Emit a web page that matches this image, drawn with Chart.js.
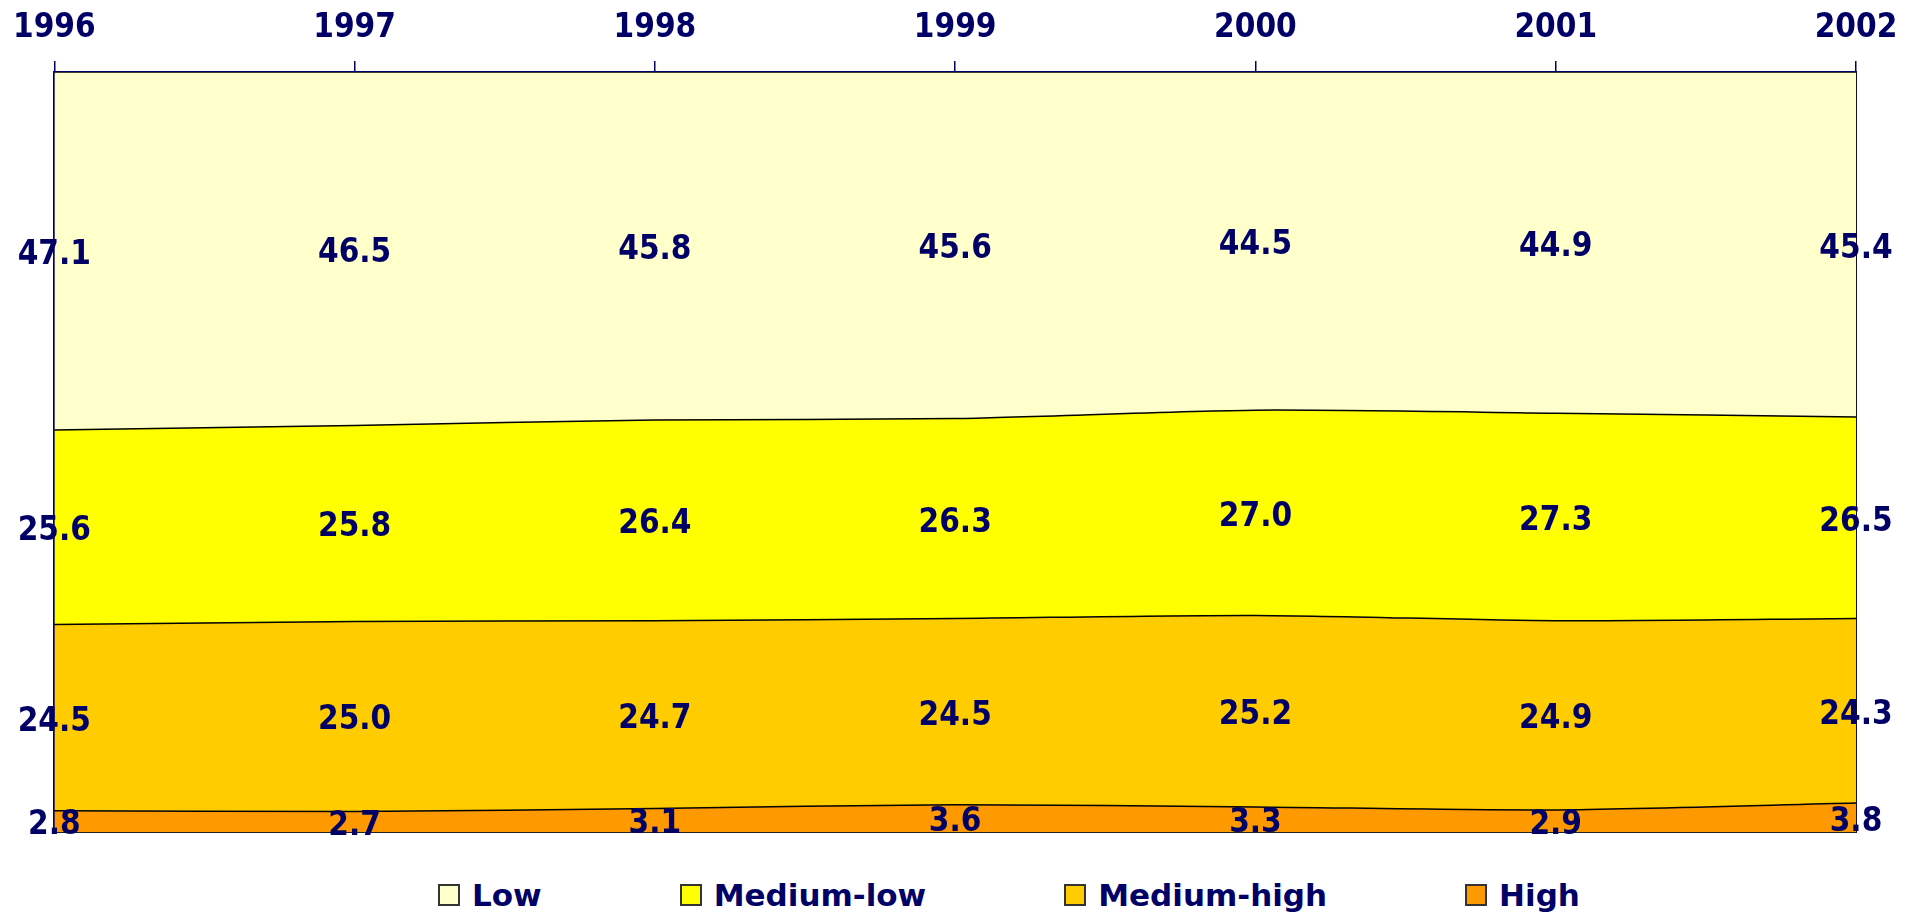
<!DOCTYPE html>
<html>
<head>
<meta charset="utf-8">
<script src="https://cdn.jsdelivr.net/npm/chart.js@4.4.0/dist/chart.umd.min.js"></script>
<style>
  body { margin: 0; background: #fff; font-family: 'DejaVu Sans', sans-serif; }
  #wrap { position: relative; width: 1916px; height: 914px; }
  #chart-box { position: absolute; left: 0; top: 0; width: 1916px; height: 840px; }
  #legend { position: absolute; left: 438px; top: 877px; display: flex; gap: 138px; }
  .legend-item { display: flex; align-items: center; font-weight: bold; font-size: 31px; line-height: 36px; color: #000066; }
  .legend-box { width: 22px; height: 22px; box-sizing: border-box; border: 2px solid #333; margin-right: 12px; }
</style>
</head>
<body>
<div id="wrap">
  <div id="chart-box"><canvas id="areaChart"></canvas></div>
  <div id="legend"></div>
</div>
<script>
// ===== DATA =====
const years = ['1996', '1997', '1998', '1999', '2000', '2001', '2002'];
const seriesNames = ['High', 'Medium-high', 'Medium-low', 'Low'];
const high       = [2.8, 2.7, 3.1, 3.6, 3.3, 2.9, 3.8];
const mediumHigh = [24.5, 25.0, 24.7, 24.5, 25.2, 24.9, 24.3];
const mediumLow  = [25.6, 25.8, 26.4, 26.3, 27.0, 27.3, 26.5];
const low        = [47.1, 46.5, 45.8, 45.6, 44.5, 44.9, 45.4];
const seriesColors = ['#FF9900', '#FFCC00', '#FFFF00', '#FFFFCC'];

const NAVY = '#000066';
const FONT = "'DejaVu Sans Condensed', 'DejaVu Sans'";

// value labels in the middle of each band
const bandLabels = {
  id: 'bandLabels',
  afterDatasetsDraw(chart) {
    const { ctx, scales: { x, y } } = chart;
    const sets = chart.data.datasets;
    ctx.save();
    ctx.font = `bold 33px ${FONT}`;
    ctx.fillStyle = NAVY;
    ctx.textAlign = 'center';
    ctx.textBaseline = 'alphabetic';
    years.forEach((_, i) => {
      let base = 0;
      sets.forEach(ds => {
        const v = ds.data[i];
        ctx.fillText(v.toFixed(1), x.getPixelForValue(i), y.getPixelForValue(base + v / 2) + 13);
        base += v;
      });
    });
    ctx.restore();
  }
};

function renderAreaChart() {
  const series = [high, mediumHigh, mediumLow, low];

  // Legend
  document.getElementById('legend').innerHTML = seriesNames.map((n, i) =>
    `<span class="legend-item">
      <span class="legend-box" style="background:${seriesColors[i]}"></span>${n}
    </span>`
  ).reverse().join('');

  new Chart(document.getElementById('areaChart'), {
    type: 'line',
    data: {
      labels: years,
      datasets: series.map((data, i) => ({
        label: seriesNames[i],
        data,
        backgroundColor: seriesColors[i],
        borderColor: '#000',
        borderWidth: 1.5,
        fill: i ? '-1' : 'origin',
        pointRadius: 0,
        tension: 0.25,
      }))
    },
    options: {
      responsive: true,
      maintainAspectRatio: false,
      animation: false,
      layout: { padding: { top: 0, left: 51, right: 60, bottom: 8 } },
      plugins: {
        legend: { display: false },
        tooltip: { enabled: false },
      },
      scales: {
        x: {
          position: 'top',
          offset: false,
          z: 1,
          afterFit: s => { s.height = 72; },
          border: { color: NAVY, width: 2 },
          grid: { drawOnChartArea: false, drawTicks: true, tickLength: 11, color: NAVY, lineWidth: 1.5 },
          ticks: { color: NAVY, font: { family: FONT, size: 33, weight: 'bold' }, padding: 13, maxRotation: 0, autoSkip: false },
        },
        y: {
          stacked: true,
          min: 0, max: 100,
          position: 'left',
          z: 1,
          afterFit: s => { s.width = 0; },
          border: { color: NAVY, width: 2 },
          grid: { display: false, drawTicks: false },
          ticks: { display: false },
        },
        x2: {
          type: 'category',
          position: 'bottom',
          offset: false,
          z: 1,
          afterFit: s => { s.height = 0; },
          border: { color: '#222', width: 2 },
          grid: { display: false, drawTicks: false },
          ticks: { display: false },
        },
        y2: {
          type: 'linear',
          position: 'right',
          min: 0, max: 100,
          z: 1,
          afterFit: s => { s.width = 0; },
          border: { color: '#111', width: 2 },
          grid: { display: false, drawTicks: false },
          ticks: { display: false },
        }
      }
    },
    plugins: [bandLabels]
  });
}

renderAreaChart();
</script>
</body>
</html>
